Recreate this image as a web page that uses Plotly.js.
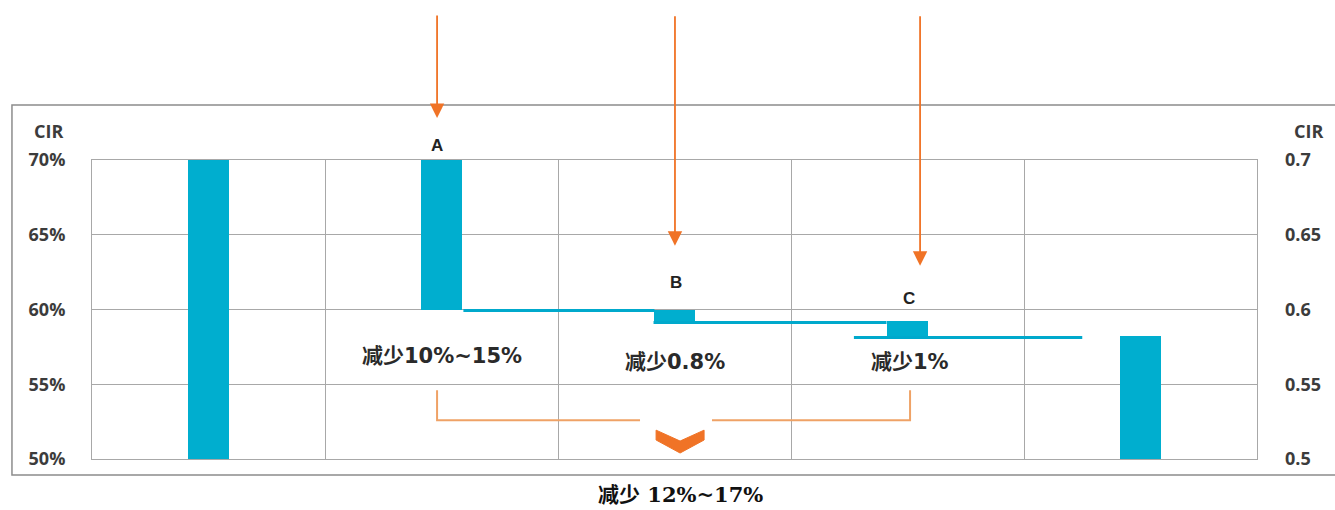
<!DOCTYPE html>
<html>
<head>
<meta charset="utf-8">
<script src="https://cdn.plot.ly/plotly-3.0.1.min.js"></script>
<style>html,body{margin:0;padding:0;background:#fff;}#chart{width:1335px;height:510px;}</style>
</head>
<body>
<div id="chart"></div>
<script>
// ---- data ----
const categories = ["起点", "A", "B", "C", "终点"];
const barBottoms = [0.50, 0.60, 0.592, 0.582, 0.50];
const barTops    = [0.70, 0.70, 0.600, 0.592, 0.582];
const stepLabels = ["A", "B", "C"];
const stepTexts  = ["减少10%~15%", "减少0.8%", "减少1%"];
const totalText  = "减少 12%~17%";
const leftTicks  = [0.5, 0.55, 0.6, 0.65, 0.7];
const leftTickText  = ["50%", "55%", "60%", "65%", "70%"];
const rightTickText = ["0.5", "0.55", "0.6", "0.65", "0.7"];

const barColor = "#00AECF";
const lineColor = "#00A9CC";
const orange = "#F07326";
const orangeLine = "#EFA266";
const gridColor = "#A8A8A8";

const traces = [{
  type: "bar",
  x: categories.map((c, i) => i),
  y: barTops.map((t, i) => t - barBottoms[i]),
  base: barBottoms,
  width: 0.18,
  marker: { color: barColor, line: { width: 0 } },
  hoverinfo: "skip",
  showlegend: false
}];

// connector lines between steps (level after each reduction)
const connectors = [
  { from: 1 + 0.094, to: 2 - 0.086, level: barBottoms[1] },
  { from: 2 - 0.09,  to: 3 - 0.09,  level: barBottoms[2] },
  { from: 3 - 0.23,  to: 4 - 0.25,  level: barBottoms[3] }
];
connectors.forEach(c => traces.push({
  type: "scatter", mode: "lines",
  x: [c.from, c.to], y: [c.level - 0.0007, c.level - 0.0007],
  line: { color: lineColor, width: 3 },
  hoverinfo: "skip", showlegend: false
}));

// dummy trace for right axis
traces.push({ type: "scatter", mode: "none", x: [0], y: [0.5], yaxis: "y2", hoverinfo: "skip", showlegend: false });

const tickFont = { family: "Open Sans, Liberation Sans, sans-serif", size: 18, color: "#3c3c3c", weight: "bold" };
const labelFont = { family: "Liberation Sans, Arial, sans-serif", size: 17, color: "#222", weight: "bold" };
const cjkFont = { family: "DejaVu Sans, Noto Sans CJK SC, sans-serif", size: 21, color: "#2a2a2a", weight: "bold" };
const totalFont = { family: "DejaVu Serif, Noto Sans CJK SC, serif", size: 21, color: "#111", weight: "bold" };

const annotations = [
  { xref: "paper", yref: "paper", x: -0.037, y: 1.097, xanchor: "center", yanchor: "middle",
    text: "CIR", showarrow: false, font: tickFont },
  { xref: "paper", yref: "paper", x: 1.044, y: 1.097, xanchor: "center", yanchor: "middle",
    text: "CIR", showarrow: false, font: tickFont },
  // step letters
  { x: 0.98, y: barTops[1], yshift: 15, text: stepLabels[0], showarrow: false, font: labelFont },
  { x: 2.006, y: barTops[2], yshift: 27, text: stepLabels[1], showarrow: false, font: labelFont },
  { x: 3.006, y: barTops[3], yshift: 23, text: stepLabels[2], showarrow: false, font: labelFont },
  // reduction texts
  { x: 1.0, y: 0.5687, text: stepTexts[0], showarrow: false, font: cjkFont },
  { x: 2.0, y: 0.5647, text: stepTexts[1], showarrow: false, font: cjkFont },
  { x: 3.01, y: 0.5647, text: stepTexts[2], showarrow: false, font: cjkFont },
  // total
  { xref: "paper", yref: "paper", x: 0.505, y: -0.12, xanchor: "center", yanchor: "middle",
    text: totalText, showarrow: false, font: totalFont },
  // arrows
  { x: 0.981, yref: "paper", y: 1.1405, ax: 0, ay: -104, text: "", showarrow: true,
    arrowhead: 2, arrowsize: 1.6, arrowwidth: 1.8, arrowcolor: orange },
  { x: 2.002, y: 0.6427, ax: 0, ay: -231, text: "", showarrow: true,
    arrowhead: 2, arrowsize: 1.6, arrowwidth: 1.8, arrowcolor: orange },
  { x: 3.054, y: 0.6293, ax: 0, ay: -251, text: "", showarrow: true,
    arrowhead: 2, arrowsize: 1.6, arrowwidth: 1.8, arrowcolor: orange }
];

const shapes = [
  // outer frame
  { type: "rect", xref: "paper", yref: "paper", x0: -0.0687, x1: 1.075, y0: -0.0535, y1: 1.184,
    line: { color: "#8c8c8c", width: 1.5 }, layer: "below" },
  // bracket left part
  { type: "path", xref: "x", yref: "y", path: "M 0.981 0.546 L 0.981 0.526 L 1.852 0.526",
    line: { color: orangeLine, width: 2 } },
  // bracket right part
  { type: "path", xref: "x", yref: "y", path: "M 2.161 0.526 L 3.011 0.526 L 3.011 0.546",
    line: { color: orangeLine, width: 2 } },
  // chevron
  { type: "path", xref: "x", yref: "y",
    path: "M 1.921 0.5193 L 2.024 0.5120 L 2.127 0.5193 L 2.127 0.5127 L 2.024 0.5040 L 1.921 0.5127 Z",
    fillcolor: orange, line: { color: orange, width: 1 } }
];

const layout = {
  width: 1335, height: 510,
  margin: { l: 92, r: 78, t: 160, b: 51, pad: 0 },
  paper_bgcolor: "#fff", plot_bgcolor: "#fff",
  showlegend: false,
  bargap: 0,
  xaxis: {
    type: "linear", range: [-0.5, 4.5], tickvals: [-0.5, 0.5, 1.5, 2.5, 3.5, 4.5],
    showticklabels: false, ticks: "", showgrid: true, gridcolor: gridColor, gridwidth: 1,
    zeroline: false, showline: true, linecolor: gridColor, mirror: true, fixedrange: true
  },
  yaxis: {
    range: [0.5, 0.7], tickvals: leftTicks, ticktext: leftTickText,
    showgrid: true, gridcolor: gridColor, gridwidth: 1, zeroline: false,
    showline: true, linecolor: gridColor, mirror: true,
    tickfont: tickFont, ticks: "", ticklabelstandoff: 22
  },
  yaxis2: {
    overlaying: "y", side: "right", range: [0.5, 0.7], tickvals: leftTicks, ticktext: rightTickText,
    showgrid: false, zeroline: false, showline: false, tickfont: tickFont, ticks: "",
    ticklabelstandoff: 27
  },
  annotations: annotations,
  shapes: shapes
};

Plotly.newPlot("chart", traces, layout, { displayModeBar: false, staticPlot: true });
</script>
</body>
</html>
